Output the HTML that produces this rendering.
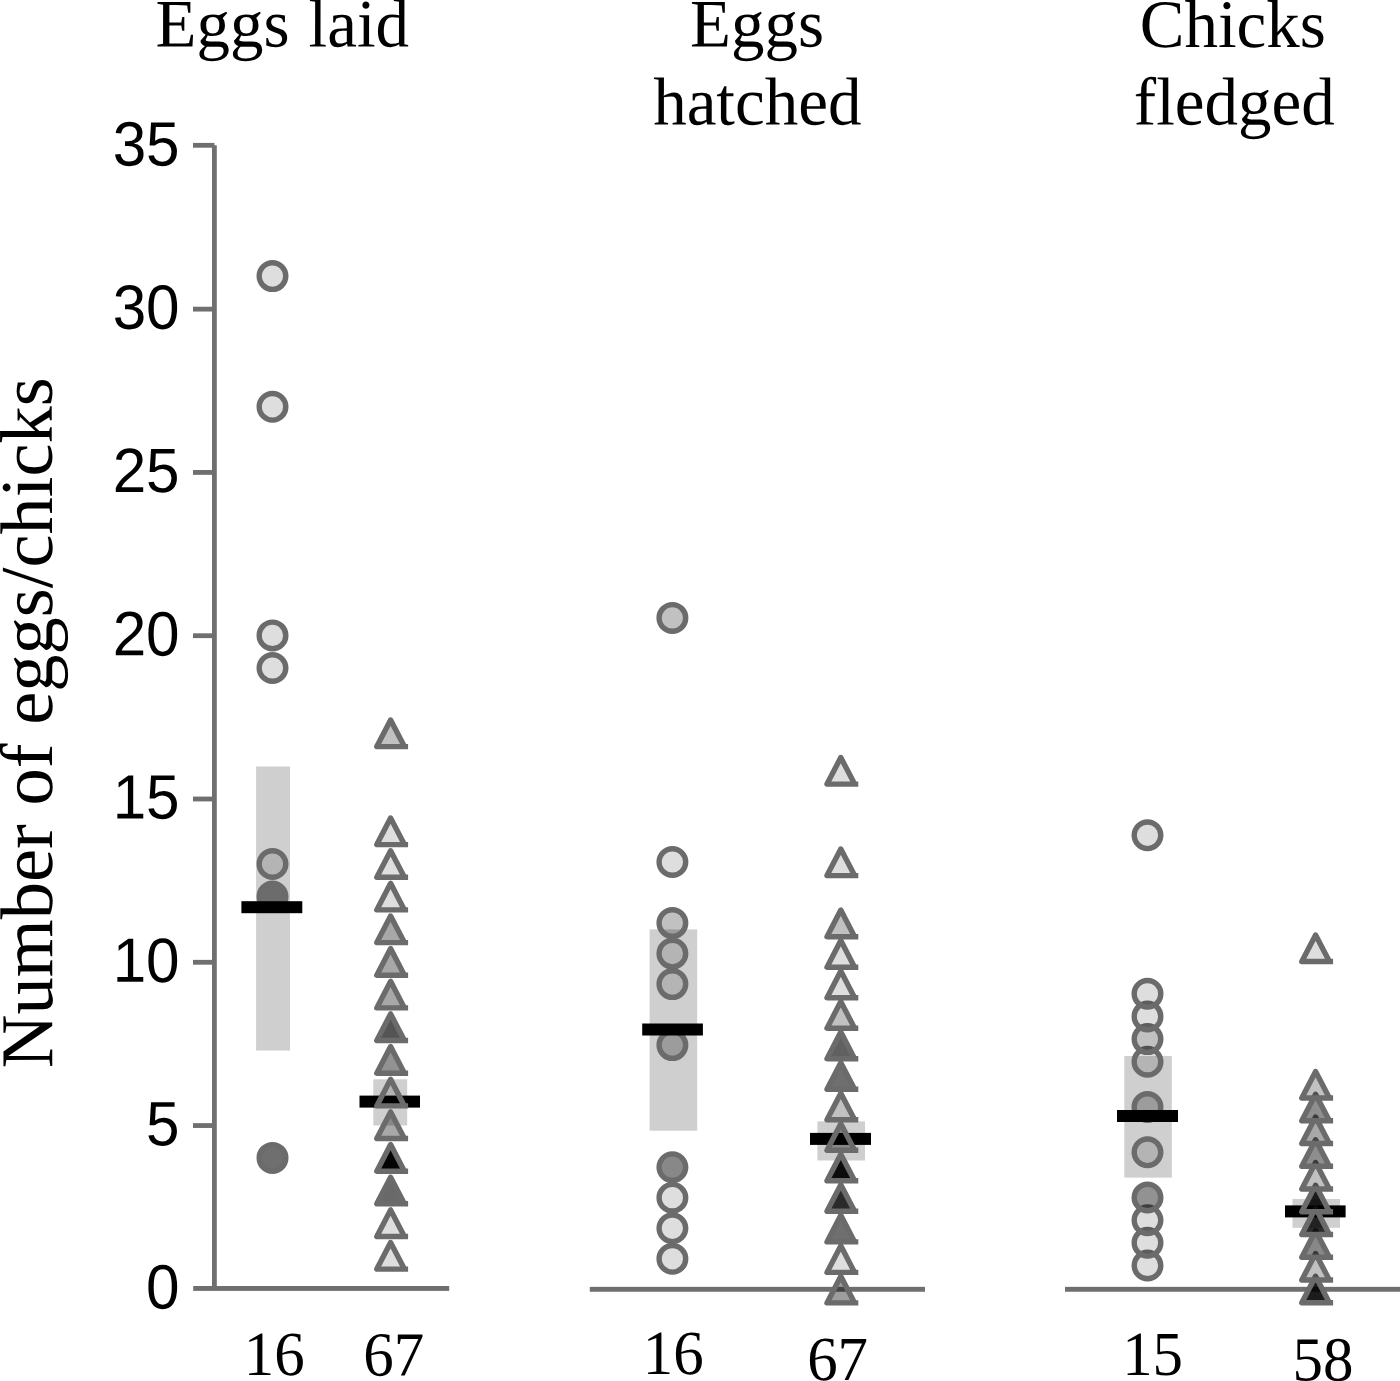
<!DOCTYPE html>
<html lang="en"><head><meta charset="utf-8"><title>Eggs laid, eggs hatched, chicks fledged</title>
<style>html,body{margin:0;padding:0;background:#fff;}body{width:1400px;height:1381px;overflow:hidden;}svg{display:block;}text{text-rendering:geometricPrecision;}.serif{font-family:"Liberation Serif","Times New Roman",serif;fill:#000;}.sans{font-family:"Liberation Sans",Arial,sans-serif;fill:#000;}</style></head><body>
<svg width="1400" height="1381" viewBox="0 0 1400 1381">
<rect width="1400" height="1381" fill="#fff"/>
<g class="serif" font-size="67.91">
<text text-anchor="start" transform="translate(155.6 46.5) rotate(0.03) scale(0.9866 1)">Eggs <tspan dx="2.28">laid</tspan></text>
<text text-anchor="middle" transform="translate(757 46.5) rotate(0.03) scale(0.9866 1)">Eggs</text>
<text text-anchor="middle" transform="translate(757.3 124.5) rotate(0.03) scale(0.9866 1)">hatched</text>
<text text-anchor="middle" transform="translate(1232.8 47) rotate(0.03) scale(0.9866 1)">Chicks</text>
<text text-anchor="middle" transform="translate(1234.3 124.5) rotate(0.03) scale(0.9866 1)">fledged</text>
</g>
<text class="serif" font-size="74.5" text-anchor="middle" transform="translate(52.0 722.7) rotate(-90.03)">Number of eggs/chicks</text>
<rect x="256.1" y="766.5" width="33.9" height="284.0" fill="#cfcfcf"/>
<rect x="373.3" y="1079.3" width="33.9" height="46.2" fill="#cfcfcf"/>
<rect x="649.6" y="929.4" width="47.6" height="201.3" fill="#cfcfcf"/>
<rect x="817.4" y="1121.4" width="47.6" height="39.1" fill="#cfcfcf"/>
<rect x="1124.3" y="1056.0" width="47.5" height="121.6" fill="#cfcfcf"/>
<rect x="1292.5" y="1199.0" width="47.5" height="28.8" fill="#cfcfcf"/>
<g fill="#6f6f6f">
<rect x="212" y="145.3" width="4.8" height="1143.2"/>
<rect x="193" y="1123.16" width="21.4" height="4.8"/>
<rect x="193" y="959.88" width="21.4" height="4.8"/>
<rect x="193" y="796.60" width="21.4" height="4.8"/>
<rect x="193" y="633.31" width="21.4" height="4.8"/>
<rect x="193" y="470.03" width="21.4" height="4.8"/>
<rect x="193" y="306.74" width="21.4" height="4.8"/>
<rect x="193" y="142.91" width="21.4" height="4.8"/>
<rect x="193.2" y="1286" width="256.0" height="4.9"/>
<rect x="589.8" y="1286.85" width="335.2" height="4.9"/>
<rect x="1065" y="1286.85" width="335" height="4.9"/>
</g>
<g class="sans" font-size="62.7" text-anchor="end">
<text transform="translate(179.6 1308.5) rotate(0.03) scale(0.96 1)">0</text>
<text transform="translate(179.6 1145.2) rotate(0.03) scale(0.96 1)">5</text>
<text transform="translate(179.6 981.9) rotate(0.03) scale(0.96 1)">10</text>
<text transform="translate(179.6 818.6) rotate(0.03) scale(0.96 1)">15</text>
<text transform="translate(179.6 655.4) rotate(0.03) scale(0.96 1)">20</text>
<text transform="translate(179.6 492.1) rotate(0.03) scale(0.96 1)">25</text>
<text transform="translate(179.6 328.8) rotate(0.03) scale(0.96 1)">30</text>
<text transform="translate(179.6 165.5) rotate(0.03) scale(0.96 1)">35</text>
</g>
<g>
<circle cx="272.5" cy="1157.9" r="13.3" fill="#000" fill-opacity="0.566" stroke="#6b6b6b" stroke-width="5.4"/>
<circle cx="272.5" cy="896.6" r="13.3" fill="#000" fill-opacity="0.480" stroke="#6b6b6b" stroke-width="5.4"/>
<circle cx="272.5" cy="864.0" r="13.3" fill="#000" fill-opacity="0.130" stroke="#6b6b6b" stroke-width="5.4"/>
<circle cx="272.5" cy="668.0" r="13.3" fill="#000" fill-opacity="0.130" stroke="#6b6b6b" stroke-width="5.4"/>
<circle cx="272.5" cy="635.4" r="13.3" fill="#000" fill-opacity="0.130" stroke="#6b6b6b" stroke-width="5.4"/>
<circle cx="272.5" cy="406.8" r="13.3" fill="#000" fill-opacity="0.130" stroke="#6b6b6b" stroke-width="5.4"/>
<circle cx="272.5" cy="276.1" r="13.3" fill="#000" fill-opacity="0.130" stroke="#6b6b6b" stroke-width="5.4"/>
<circle cx="672.4" cy="1258.8" r="13.3" fill="#000" fill-opacity="0.130" stroke="#6b6b6b" stroke-width="5.4"/>
<circle cx="672.4" cy="1228.3" r="13.3" fill="#000" fill-opacity="0.130" stroke="#6b6b6b" stroke-width="5.4"/>
<circle cx="672.4" cy="1197.7" r="13.3" fill="#000" fill-opacity="0.130" stroke="#6b6b6b" stroke-width="5.4"/>
<circle cx="672.4" cy="1167.2" r="13.3" fill="#000" fill-opacity="0.466" stroke="#6b6b6b" stroke-width="5.4"/>
<circle cx="672.4" cy="1045.1" r="13.3" fill="#000" fill-opacity="0.243" stroke="#6b6b6b" stroke-width="5.4"/>
<circle cx="672.4" cy="984.1" r="13.3" fill="#000" fill-opacity="0.130" stroke="#6b6b6b" stroke-width="5.4"/>
<circle cx="672.4" cy="953.6" r="13.3" fill="#000" fill-opacity="0.130" stroke="#6b6b6b" stroke-width="5.4"/>
<circle cx="672.4" cy="923.1" r="13.3" fill="#000" fill-opacity="0.243" stroke="#6b6b6b" stroke-width="5.4"/>
<circle cx="672.4" cy="862.0" r="13.3" fill="#000" fill-opacity="0.130" stroke="#6b6b6b" stroke-width="5.4"/>
<circle cx="672.4" cy="617.9" r="13.3" fill="#000" fill-opacity="0.243" stroke="#6b6b6b" stroke-width="5.4"/>
<circle cx="1147.5" cy="1265.5" r="13.3" fill="#000" fill-opacity="0.130" stroke="#6b6b6b" stroke-width="5.4"/>
<circle cx="1147.5" cy="1242.8" r="13.3" fill="#000" fill-opacity="0.130" stroke="#6b6b6b" stroke-width="5.4"/>
<circle cx="1147.5" cy="1220.2" r="13.3" fill="#000" fill-opacity="0.130" stroke="#6b6b6b" stroke-width="5.4"/>
<circle cx="1147.5" cy="1197.5" r="13.3" fill="#000" fill-opacity="0.427" stroke="#6b6b6b" stroke-width="5.4"/>
<circle cx="1147.5" cy="1152.3" r="13.3" fill="#000" fill-opacity="0.130" stroke="#6b6b6b" stroke-width="5.4"/>
<circle cx="1147.5" cy="1107.0" r="13.3" fill="#000" fill-opacity="0.243" stroke="#6b6b6b" stroke-width="5.4"/>
<circle cx="1147.5" cy="1061.7" r="13.3" fill="#000" fill-opacity="0.130" stroke="#6b6b6b" stroke-width="5.4"/>
<circle cx="1147.5" cy="1039.1" r="13.3" fill="#000" fill-opacity="0.243" stroke="#6b6b6b" stroke-width="5.4"/>
<circle cx="1147.5" cy="1016.4" r="13.3" fill="#000" fill-opacity="0.130" stroke="#6b6b6b" stroke-width="5.4"/>
<circle cx="1147.5" cy="993.8" r="13.3" fill="#000" fill-opacity="0.130" stroke="#6b6b6b" stroke-width="5.4"/>
<circle cx="1147.5" cy="835.3" r="13.3" fill="#000" fill-opacity="0.130" stroke="#6b6b6b" stroke-width="5.4"/>
</g>
<rect x="241.4" y="901.2" width="60.9" height="12" fill="#000"/>
<rect x="359.5" y="1095.6" width="60.5" height="12" fill="#000"/>
<rect x="642.2" y="1023.5" width="60.7" height="12" fill="#000"/>
<rect x="810.0" y="1132.9" width="61.0" height="12" fill="#000"/>
<rect x="1117.0" y="1110.0" width="61.0" height="12" fill="#000"/>
<rect x="1285.0" y="1205.4" width="60.6" height="12" fill="#000"/>
<g>
<path d="M404.4 1269.1L390.6 1242.5L376.8 1269.1L408.1 1269.1" fill="#000" fill-opacity="0.130" stroke="#6b6b6b" stroke-width="5.4" stroke-linejoin="round"/>
<path d="M404.4 1236.5L390.6 1209.9L376.8 1236.5L408.1 1236.5" fill="#000" fill-opacity="0.130" stroke="#6b6b6b" stroke-width="5.4" stroke-linejoin="round"/>
<path d="M404.4 1203.8L390.6 1177.2L376.8 1203.8L408.1 1203.8" fill="#000" fill-opacity="0.590" stroke="#6b6b6b" stroke-width="5.4" stroke-linejoin="round"/>
<path d="M404.4 1171.2L390.6 1144.6L376.8 1171.2L408.1 1171.2" fill="#000" fill-opacity="0.985" stroke="#6b6b6b" stroke-width="5.4" stroke-linejoin="round"/>
<path d="M404.4 1138.5L390.6 1111.9L376.8 1138.5L408.1 1138.5" fill="#000" fill-opacity="0.341" stroke="#6b6b6b" stroke-width="5.4" stroke-linejoin="round"/>
<path d="M404.4 1105.9L390.6 1079.3L376.8 1105.9L408.1 1105.9" fill="#000" fill-opacity="0.130" stroke="#6b6b6b" stroke-width="5.4" stroke-linejoin="round"/>
<path d="M404.4 1073.2L390.6 1046.6L376.8 1073.2L408.1 1073.2" fill="#000" fill-opacity="0.427" stroke="#6b6b6b" stroke-width="5.4" stroke-linejoin="round"/>
<path d="M404.4 1040.5L390.6 1013.9L376.8 1040.5L408.1 1040.5" fill="#000" fill-opacity="0.672" stroke="#6b6b6b" stroke-width="5.4" stroke-linejoin="round"/>
<path d="M404.4 1007.9L390.6 981.3L376.8 1007.9L408.1 1007.9" fill="#000" fill-opacity="0.341" stroke="#6b6b6b" stroke-width="5.4" stroke-linejoin="round"/>
<path d="M404.4 975.2L390.6 948.6L376.8 975.2L408.1 975.2" fill="#000" fill-opacity="0.341" stroke="#6b6b6b" stroke-width="5.4" stroke-linejoin="round"/>
<path d="M404.4 942.6L390.6 916.0L376.8 942.6L408.1 942.6" fill="#000" fill-opacity="0.341" stroke="#6b6b6b" stroke-width="5.4" stroke-linejoin="round"/>
<path d="M404.4 909.9L390.6 883.3L376.8 909.9L408.1 909.9" fill="#000" fill-opacity="0.130" stroke="#6b6b6b" stroke-width="5.4" stroke-linejoin="round"/>
<path d="M404.4 877.3L390.6 850.7L376.8 877.3L408.1 877.3" fill="#000" fill-opacity="0.130" stroke="#6b6b6b" stroke-width="5.4" stroke-linejoin="round"/>
<path d="M404.4 844.6L390.6 818.0L376.8 844.6L408.1 844.6" fill="#000" fill-opacity="0.130" stroke="#6b6b6b" stroke-width="5.4" stroke-linejoin="round"/>
<path d="M404.4 746.6L390.6 720.0L376.8 746.6L408.1 746.6" fill="#000" fill-opacity="0.243" stroke="#6b6b6b" stroke-width="5.4" stroke-linejoin="round"/>
<path d="M854.6 1302.9L840.8 1276.3L827.0 1302.9L858.3 1302.9" fill="#000" fill-opacity="0.386" stroke="#6b6b6b" stroke-width="5.4" stroke-linejoin="round"/>
<path d="M854.6 1272.4L840.8 1245.8L827.0 1272.4L858.3 1272.4" fill="#000" fill-opacity="0.130" stroke="#6b6b6b" stroke-width="5.4" stroke-linejoin="round"/>
<path d="M854.6 1241.9L840.8 1215.3L827.0 1241.9L858.3 1241.9" fill="#000" fill-opacity="0.566" stroke="#6b6b6b" stroke-width="5.4" stroke-linejoin="round"/>
<path d="M854.6 1211.3L840.8 1184.7L827.0 1211.3L858.3 1211.3" fill="#000" fill-opacity="0.836" stroke="#6b6b6b" stroke-width="5.4" stroke-linejoin="round"/>
<path d="M854.6 1180.8L840.8 1154.2L827.0 1180.8L858.3 1180.8" fill="#000" fill-opacity="0.953" stroke="#6b6b6b" stroke-width="5.4" stroke-linejoin="round"/>
<path d="M854.6 1150.3L840.8 1123.7L827.0 1150.3L858.3 1150.3" fill="#000" fill-opacity="0.341" stroke="#6b6b6b" stroke-width="5.4" stroke-linejoin="round"/>
<path d="M854.6 1119.8L840.8 1093.2L827.0 1119.8L858.3 1119.8" fill="#000" fill-opacity="0.243" stroke="#6b6b6b" stroke-width="5.4" stroke-linejoin="round"/>
<path d="M854.6 1089.3L840.8 1062.7L827.0 1089.3L858.3 1089.3" fill="#000" fill-opacity="0.566" stroke="#6b6b6b" stroke-width="5.4" stroke-linejoin="round"/>
<path d="M854.6 1058.7L840.8 1032.1L827.0 1058.7L858.3 1058.7" fill="#000" fill-opacity="0.623" stroke="#6b6b6b" stroke-width="5.4" stroke-linejoin="round"/>
<path d="M854.6 1028.2L840.8 1001.6L827.0 1028.2L858.3 1028.2" fill="#000" fill-opacity="0.243" stroke="#6b6b6b" stroke-width="5.4" stroke-linejoin="round"/>
<path d="M854.6 997.7L840.8 971.1L827.0 997.7L858.3 997.7" fill="#000" fill-opacity="0.130" stroke="#6b6b6b" stroke-width="5.4" stroke-linejoin="round"/>
<path d="M854.6 967.2L840.8 940.6L827.0 967.2L858.3 967.2" fill="#000" fill-opacity="0.130" stroke="#6b6b6b" stroke-width="5.4" stroke-linejoin="round"/>
<path d="M854.6 936.7L840.8 910.1L827.0 936.7L858.3 936.7" fill="#000" fill-opacity="0.243" stroke="#6b6b6b" stroke-width="5.4" stroke-linejoin="round"/>
<path d="M854.6 875.6L840.8 849.0L827.0 875.6L858.3 875.6" fill="#000" fill-opacity="0.130" stroke="#6b6b6b" stroke-width="5.4" stroke-linejoin="round"/>
<path d="M854.6 784.1L840.8 757.5L827.0 784.1L858.3 784.1" fill="#000" fill-opacity="0.130" stroke="#6b6b6b" stroke-width="5.4" stroke-linejoin="round"/>
<path d="M1329.4 1302.8L1315.6 1276.2L1301.8 1302.8L1333.1 1302.8" fill="#000" fill-opacity="0.892" stroke="#6b6b6b" stroke-width="5.4" stroke-linejoin="round"/>
<path d="M1329.4 1280.0L1315.6 1253.5L1301.8 1280.0L1333.1 1280.0" fill="#000" fill-opacity="0.243" stroke="#6b6b6b" stroke-width="5.4" stroke-linejoin="round"/>
<path d="M1329.4 1257.3L1315.6 1230.7L1301.8 1257.3L1333.1 1257.3" fill="#000" fill-opacity="0.466" stroke="#6b6b6b" stroke-width="5.4" stroke-linejoin="round"/>
<path d="M1329.4 1234.5L1315.6 1208.0L1301.8 1234.5L1333.1 1234.5" fill="#000" fill-opacity="0.836" stroke="#6b6b6b" stroke-width="5.4" stroke-linejoin="round"/>
<path d="M1329.4 1211.8L1315.6 1185.2L1301.8 1211.8L1333.1 1211.8" fill="#000" fill-opacity="0.892" stroke="#6b6b6b" stroke-width="5.4" stroke-linejoin="round"/>
<path d="M1329.4 1189.0L1315.6 1162.5L1301.8 1189.0L1333.1 1189.0" fill="#000" fill-opacity="0.243" stroke="#6b6b6b" stroke-width="5.4" stroke-linejoin="round"/>
<path d="M1329.4 1166.3L1315.6 1139.7L1301.8 1166.3L1333.1 1166.3" fill="#000" fill-opacity="0.443" stroke="#6b6b6b" stroke-width="5.4" stroke-linejoin="round"/>
<path d="M1329.4 1143.5L1315.6 1117.0L1301.8 1143.5L1333.1 1143.5" fill="#000" fill-opacity="0.341" stroke="#6b6b6b" stroke-width="5.4" stroke-linejoin="round"/>
<path d="M1329.4 1120.8L1315.6 1094.2L1301.8 1120.8L1333.1 1120.8" fill="#000" fill-opacity="0.443" stroke="#6b6b6b" stroke-width="5.4" stroke-linejoin="round"/>
<path d="M1329.4 1098.0L1315.6 1071.5L1301.8 1098.0L1333.1 1098.0" fill="#000" fill-opacity="0.243" stroke="#6b6b6b" stroke-width="5.4" stroke-linejoin="round"/>
<path d="M1329.4 961.5L1315.6 935.0L1301.8 961.5L1333.1 961.5" fill="#000" fill-opacity="0.130" stroke="#6b6b6b" stroke-width="5.4" stroke-linejoin="round"/>
</g>
<g class="serif" font-size="62.8" text-anchor="middle">
<text transform="translate(274.3 1375.0) rotate(0.03) scale(0.97 1)">16</text>
<text transform="translate(393.8 1375.4) rotate(0.03) scale(0.97 1)">67</text>
<text transform="translate(673.2 1374.1) rotate(0.03) scale(0.97 1)">16</text>
<text transform="translate(837.6 1380.1) rotate(0.03) scale(0.97 1)">67</text>
<text transform="translate(1152.6 1375.1) rotate(0.03) scale(0.97 1)">15</text>
<text transform="translate(1322.9 1380.5) rotate(0.03) scale(0.97 1)">58</text>
</g>
</svg></body></html>
